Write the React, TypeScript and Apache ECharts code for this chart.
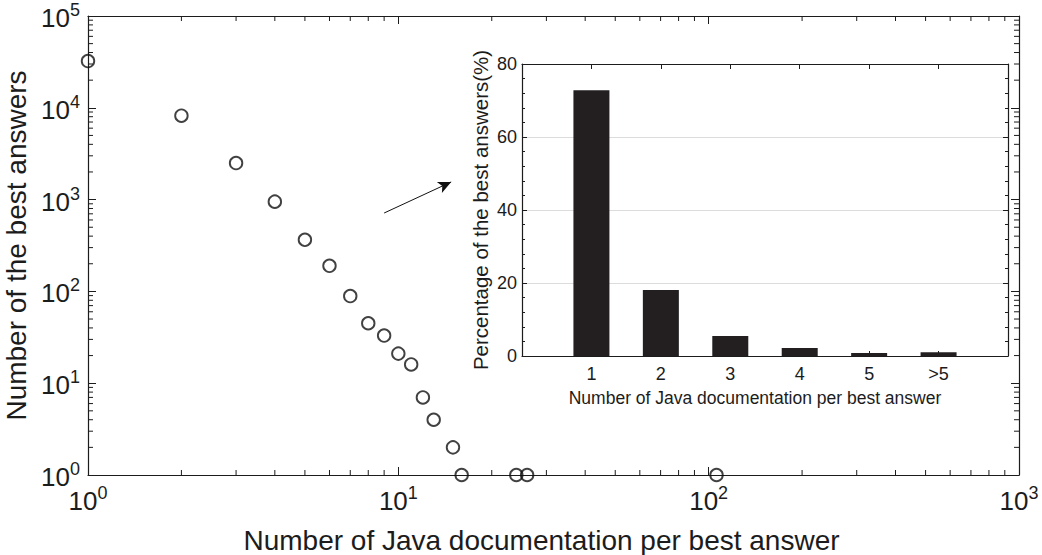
import React, { useEffect, useRef } from "react";
import * as echarts from "echarts";

// Main log-log scatter: number of Java documentation links per best answer
const docsPerAnswer = [1, 2, 3, 4, 5, 6, 7, 8, 9, 10, 11, 12, 13, 15, 16, 24, 26, 106];
const bestAnswerCounts = [32300, 8200, 2500, 950, 365, 190, 89, 45, 33, 21, 16, 7, 4, 2, 1, 1, 1, 1];

// Inset bar chart
const insetCategories = ["1", "2", "3", "4", "5", ">5"];
const insetPercentages = [72.8, 18.1, 5.5, 2.2, 0.8, 1.0];

// Arrow annotation (data coordinates of the main chart)
const arrowFrom = [9.0, 714];
const arrowTo = [14.8, 1556];

// Axis ranges
const mainXRange = [1, 1000];
const mainYRange = [1, 100000];
const insetYTicks = [0, 20, 40, 60, 80];

const FONT = "Liberation Sans, Arial, Helvetica, sans-serif";
const INK = "#1c1c1c";

function minorLogValues(min: number, max: number): number[] {
  const out: number[] = [];
  for (let d = min; d < max; d *= 10) {
    for (let m = 2; m <= 9; m++) out.push(m * d);
  }
  return out;
}

export default function App() {
  const ref = useRef<HTMLDivElement | null>(null);

  useEffect(() => {
    if (!ref.current) return;
    const chart = echarts.init(ref.current, null, { renderer: "svg" });

    const minorTickData: number[][] = [];
    minorLogValues(mainXRange[0], mainXRange[1]).forEach((v) => {
      minorTickData.push([v, mainYRange[0], 0]);
      minorTickData.push([v, mainYRange[1], 1]);
    });
    minorLogValues(mainYRange[0], mainYRange[1]).forEach((v) => {
      minorTickData.push([mainXRange[0], v, 2]);
      minorTickData.push([mainXRange[1], v, 3]);
    });

    const powLabel = (value: number) => {
      const e = Math.round(Math.log10(value));
      return `{b|10}{s|${e}}`;
    };
    const powRich = {
      b: { fontSize: 26, fontFamily: FONT, color: INK, verticalAlign: "bottom" as const },
      s: { fontSize: 18, fontFamily: FONT, color: INK, verticalAlign: "bottom" as const, padding: [0, 0, 12, 0] },
    };

    const axisLine = { show: true, onZero: false, lineStyle: { color: INK, width: 1.2 } };

    const option: any = {
      animation: false,
      backgroundColor: "#fff",
      textStyle: { fontFamily: FONT, color: INK },
      grid: [
        { left: 88, top: 16, width: 931, height: 459, containLabel: false, outerBoundsMode: "none" },
        {
          left: 522,
          top: 64,
          width: 486,
          height: 292,
          show: true,
          backgroundColor: "#fff",
          borderWidth: 0,
          containLabel: false,
          outerBoundsMode: "none",
          z: 5,
        },
      ],
      xAxis: [
        {
          type: "log",
          logBase: 10,
          gridIndex: 0,
          min: mainXRange[0],
          max: mainXRange[1],
          position: "bottom",
          axisLine,
          axisTick: { show: true, inside: true, length: 8, lineStyle: { color: INK } },
          axisLabel: { formatter: powLabel, rich: powRich, margin: 9 },
          splitLine: { show: false },
          name: "Number of Java documentation per best answer",
          nameLocation: "middle",
          nameGap: 51,
          nameTextStyle: { fontSize: 28, fontFamily: FONT, color: INK, padding: [0, 24, 0, 0] },
        },
        {
          type: "log",
          logBase: 10,
          gridIndex: 0,
          min: mainXRange[0],
          max: mainXRange[1],
          position: "top",
          axisLine,
          axisTick: { show: true, inside: true, length: 8, lineStyle: { color: INK } },
          axisLabel: { show: false },
          splitLine: { show: false },
        },
        {
          type: "value",
          gridIndex: 1,
          min: 0,
          max: insetCategories.length + 1,
          interval: 1,
          position: "bottom",
          axisLine: { show: true, onZero: false, lineStyle: { color: INK, width: 1.2 } },
          axisTick: { show: true, inside: true, length: 5, lineStyle: { color: INK } },
          axisLabel: {
            fontSize: 18,
            fontFamily: FONT,
            color: INK,
            margin: 9,
            formatter: (v: number) => insetCategories[v - 1] ?? "",
          },
          splitLine: { show: false },
          name: "Number of Java documentation per best answer",
          nameLocation: "middle",
          nameGap: 33,
          nameTextStyle: { fontSize: 17.5, fontFamily: FONT, color: INK, padding: [0, 20, 0, 0] },
          z: 6,
        },
        {
          type: "value",
          gridIndex: 1,
          min: 0,
          max: insetCategories.length + 1,
          interval: 1,
          position: "top",
          axisLine: { show: true, onZero: false, lineStyle: { color: INK, width: 1.2 } },
          axisTick: { show: true, inside: true, length: 5, lineStyle: { color: INK } },
          axisLabel: { show: false },
          splitLine: { show: false },
          z: 6,
        },
      ],
      yAxis: [
        {
          type: "log",
          logBase: 10,
          gridIndex: 0,
          min: mainYRange[0],
          max: mainYRange[1],
          position: "left",
          axisLine,
          axisTick: { show: true, inside: true, length: 8, lineStyle: { color: INK } },
          axisLabel: { formatter: powLabel, rich: powRich, margin: 8 },
          splitLine: { show: false },
          name: "Number of the best answers",
          nameLocation: "middle",
          nameGap: 52,
          nameTextStyle: { fontSize: 28, fontFamily: FONT, color: INK },
        },
        {
          type: "log",
          logBase: 10,
          gridIndex: 0,
          min: mainYRange[0],
          max: mainYRange[1],
          position: "right",
          axisLine,
          axisTick: { show: true, inside: true, length: 8, lineStyle: { color: INK } },
          axisLabel: { show: false },
          splitLine: { show: false },
        },
        {
          type: "value",
          gridIndex: 1,
          min: insetYTicks[0],
          max: insetYTicks[insetYTicks.length - 1],
          interval: insetYTicks[1] - insetYTicks[0],
          position: "left",
          axisLine: { show: true, onZero: false, lineStyle: { color: INK, width: 1.2 } },
          axisTick: { show: true, inside: true, length: 5, lineStyle: { color: INK } },
          minorTick: { show: true, splitNumber: 5, length: 3, lineStyle: { color: INK } },
          axisLabel: { fontSize: 18, fontFamily: FONT, color: INK, margin: 5 },
          splitLine: { show: true, lineStyle: { color: "#dcdcdc", width: 1 } },
          name: "Percentage of the best answers(%)",
          nameLocation: "middle",
          nameGap: 31,
          nameTextStyle: { fontSize: 20.5, fontFamily: FONT, color: INK },
          z: 6,
        },
        {
          type: "value",
          gridIndex: 1,
          min: insetYTicks[0],
          max: insetYTicks[insetYTicks.length - 1],
          interval: insetYTicks[1] - insetYTicks[0],
          position: "right",
          axisLine: { show: true, onZero: false, lineStyle: { color: INK, width: 1.2 } },
          axisTick: { show: true, inside: true, length: 5, lineStyle: { color: INK } },
          minorTick: { show: true, splitNumber: 5, length: 3, lineStyle: { color: INK } },
          axisLabel: { show: false },
          splitLine: { show: false },
          z: 6,
        },
      ],
      series: [
        {
          type: "scatter",
          xAxisIndex: 0,
          yAxisIndex: 0,
          data: docsPerAnswer.map((x, i) => [x, bestAnswerCounts[i]]),
          symbol: "circle",
          symbolSize: 12.5,
          itemStyle: { color: "rgba(0,0,0,0)", borderColor: "#111", borderWidth: 1.9 },
          clip: false,
          z: 3,
          markLine: {
            silent: true,
            animation: false,
            symbol: ["none", "arrow"],
            symbolSize: [9, 13],
            lineStyle: { color: "#111", width: 1, type: "solid" },
            label: { show: false },
            data: [[{ coord: arrowFrom }, { coord: arrowTo }]],
          },
        },
        {
          type: "custom",
          xAxisIndex: 0,
          yAxisIndex: 0,
          data: minorTickData,
          silent: true,
          clip: false,
          z: 2,
          renderItem: (_params: any, api: any) => {
            const p = api.coord([api.value(0), api.value(1)]);
            const side = api.value(2);
            const len = 5;
            let x2 = p[0];
            let y2 = p[1];
            if (side === 0) y2 = p[1] - len;
            else if (side === 1) y2 = p[1] + len;
            else if (side === 2) x2 = p[0] + len;
            else x2 = p[0] - len;
            return {
              type: "line",
              shape: { x1: p[0], y1: p[1], x2, y2 },
              style: { stroke: INK, lineWidth: 1 },
            };
          },
        },
        {
          type: "bar",
          xAxisIndex: 2,
          yAxisIndex: 2,
          data: insetPercentages.map((v, i) => [i + 1, v]),
          barWidth: 36,
          itemStyle: { color: "#231f20" },
          z: 7,
        },
      ],
    };

    chart.setOption(option);
    return () => chart.dispose();
  }, []);

  return (
    <div
      ref={ref}
      style={{ position: "fixed", left: 0, top: 0, width: 1042, height: 555, background: "#fff" }}
    />
  );
}
